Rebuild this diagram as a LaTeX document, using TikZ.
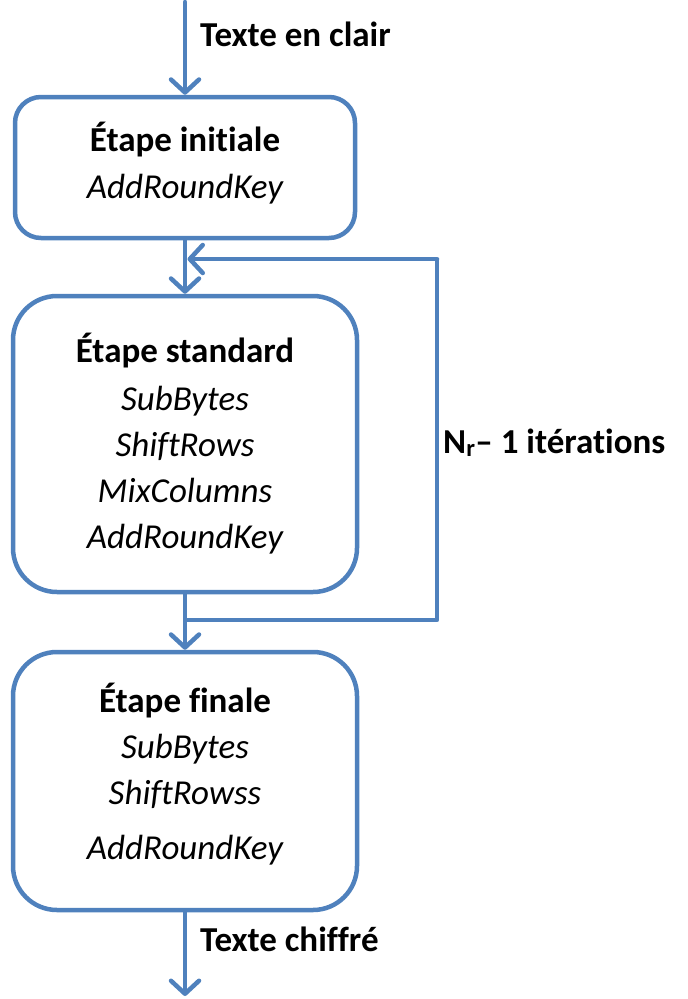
\documentclass[tikz,border=0pt]{standalone}
\usepackage{fontspec}
\setmainfont[Ligatures={NoCommon}]{Carlito}
\usetikzlibrary{arrows.meta}
\definecolor{flowblue}{RGB}{79,129,189}
\begin{document}
\begin{tikzpicture}[x=1pt,y=-1pt,
  stagebox/.style={draw=flowblue, line width=4.5pt, rounded corners=#1, fill=white, inner sep=0pt},
  flow/.style={draw=flowblue, line width=4.5pt, line cap=round, line join=round,
    -{Straight Barb[length=13pt,width=28pt,line width=4.5pt,round]}},
  wire/.style={draw=flowblue, line width=4.5pt, line join=round},
  ttl/.style={anchor=base, font=\fontsize{35}{42}\selectfont\bfseries, inner sep=0pt},
  op/.style={anchor=base, font=\fontsize{35}{42}\selectfont\itshape, inner sep=0pt},
  lbl/.style={anchor=base west, font=\fontsize{35}{42}\selectfont\bfseries, inner sep=0pt}]
\useasboundingbox (0,0) rectangle (688,999);

% the three stages
\node[stagebox=26pt, minimum width=340pt, minimum height=141pt] (init) at (185,167.5) {};
\node[stagebox=44pt, minimum width=344pt, minimum height=296pt] (std)  at (185,444) {};
\node[stagebox=44pt, minimum width=344pt, minimum height=258pt] (fin)  at (185,781) {};

% texts of the stages
\node[ttl] (t1)  at (185,151) {Étape initiale};
\node[op]  (o11) at (185,198) {AddRoundKey};

\node[ttl] (t2)  at (185,362) {Étape standard};
\node[op]  (o21) at (185,410) {SubBytes};
\node[op]  (o22) at (185,456) {ShiftRows};
\node[op]  (o23) at (185,502) {MixColumns};
\node[op]  (o24) at (185,548) {AddRoundKey};

\node[ttl] (t3)  at (185,712) {Étape finale};
\node[op]  (o31) at (185,758) {SubBytes};
\node[op]  (o32) at (185,804) {ShiftRowss};
\node[op]  (o33) at (185,859) {AddRoundKey};

% input and output
\coordinate (in)  at (185,2);
\coordinate (out) at (185,996);
\node[lbl] (lin)  at (200,46)  {Texte en clair};
\node[lbl] (lout) at (200,951) {Texte chiffré};

% loop of the standard stage
\coordinate (join) at (185,259);
\coordinate (split) at (185,620);
\coordinate (back) at (437,259);
\node[lbl] (lnr) at (443,453) {N\textsubscript{r}– 1 itérations};

\draw[flow] (in) -- (init.north);
\draw[flow] (init.south) -- (std.north);
\draw[flow] (std.south) -- (fin.north);
\draw[flow] (fin.south) -- (out);
\draw[wire] (split) -| (back);
\draw[flow] (back) -- ([xshift=2.5pt]join);
\end{tikzpicture}
\end{document}
